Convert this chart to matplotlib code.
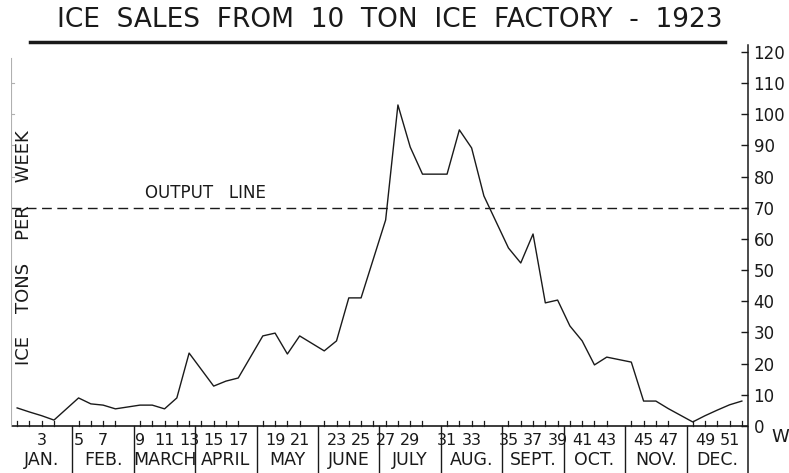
import matplotlib
matplotlib.use("Agg")
import matplotlib.pyplot as plt
from matplotlib.lines import Line2D

# weekly ice sales, tons
months = ["JAN.", "FEB.", "MARCH", "APRIL", "MAY", "JUNE",
          "JULY", "AUG.", "SEPT.", "OCT.", "NOV.", "DEC."]
weeks_per_month = [4, 4, 5, 4, 4, 5, 4, 4, 5, 4, 4, 5]
tons = [5.8, 4.5, 3.3, 1.9, 9.0, 7.1, 6.7, 5.5, 6.7, 6.7,
        5.5, 9.0, 23.4, 18.1, 12.8, 14.4, 15.4, 28.9, 29.8, 23.1,
        28.9, 24.1, 27.3, 41.1, 41.1, 53.6, 66.1, 103.0, 89.5, 80.8,
        80.8, 95.0, 89.2, 73.8, 57.1, 52.3, 61.6, 39.5, 40.4, 32.1,
        27.3, 19.6, 22.1, 20.5, 8.0, 8.0, 5.6, 1.3, 3.3, 5.1,
        6.8, 8.0]
y_ticks = list(range(0, 130, 10))
output_line = 70
week_labels = list(range(3, 52, 2))

# each month takes 5 week slots on the drawing
week_x = []
for m, n in enumerate(weeks_per_month):
    for k in range(n):
        week_x.append(5 * m + k + 0.5)

W, H = 789, 473
fig = plt.figure(figsize=(W / 100, H / 100), dpi=100)
ax = fig.add_axes([11 / W, 0, 737 / W, 428 / H])

px = 3.117  # pixels per ton
ax.set_xlim(0, 60)
ax.set_ylim(-(473 - 426) / px, (426 - 45) / px)

ink = "#1a1a1a"
font = "DejaVu Sans"

ax.plot(week_x, tons, color=ink, lw=1.0)
ax.axhline(output_line, color=ink, lw=1.0, ls=(0, (7, 4)))
ax.text(10.9, output_line + 1.8, "OUTPUT   LINE", fontsize=12, color=ink,
        family=font, va="bottom")

# x axis and month boxes
ax.axhline(0, color=ink, lw=1.2)
for m in range(1, 12):
    ax.plot([5 * m, 5 * m], [ax.get_ylim()[0], 0], color=ink, lw=1.0)
for x in week_x:
    ax.plot([x, x], [0, 1.7], color=ink, lw=0.9)
for m, name in enumerate(months):
    ax.text(5 * m + 2.5, -11.0, name, ha="center", va="center",
            fontsize=12.5, color=ink, family=font)
for w in week_labels:
    ax.text(week_x[w - 1], -4.6, str(w), ha="center", va="center",
            fontsize=11.5, color=ink, family=font)

# left guide line (faint)
ax.plot([0, 0], [0, 118], color="#b0b0b0", lw=0.8)
for v in range(80, 120, 10):
    ax.plot([0, 0.25], [v, v], color="#b0b0b0", lw=0.8)

# right axis
for s in ["top", "bottom", "left"]:
    ax.spines[s].set_visible(False)
ax.spines["right"].set_color(ink)
ax.spines["right"].set_linewidth(1.1)
ax.set_xticks([])
ax.yaxis.tick_right()
ax.set_yticks(y_ticks)
ax.set_yticklabels([str(v) for v in y_ticks], fontsize=12, color=ink,
                   family=font)
ax.tick_params(axis="y", direction="in", length=5, width=1, pad=4,
               colors=ink)

fig.text(24 / W, 1 - 248 / H, "ICE    TONS    PER    WEEK", rotation=90,
         ha="center", va="center", fontsize=13, color=ink, family=font)
fig.text(780 / W, 1 - 437 / H, "W", ha="center", va="center",
         fontsize=13, color=ink, family=font)

fig.text(390 / W, 1 - 20 / H, "ICE  SALES  FROM  10  TON  ICE  FACTORY  -  1923",
         ha="center", va="center", fontsize=19, color=ink, family=font)
fig.add_artist(Line2D([30 / W, 725 / W], [1 - 42 / H, 1 - 42 / H],
                      color=ink, lw=2.5))

fig.savefig("out.png", dpi=100)
